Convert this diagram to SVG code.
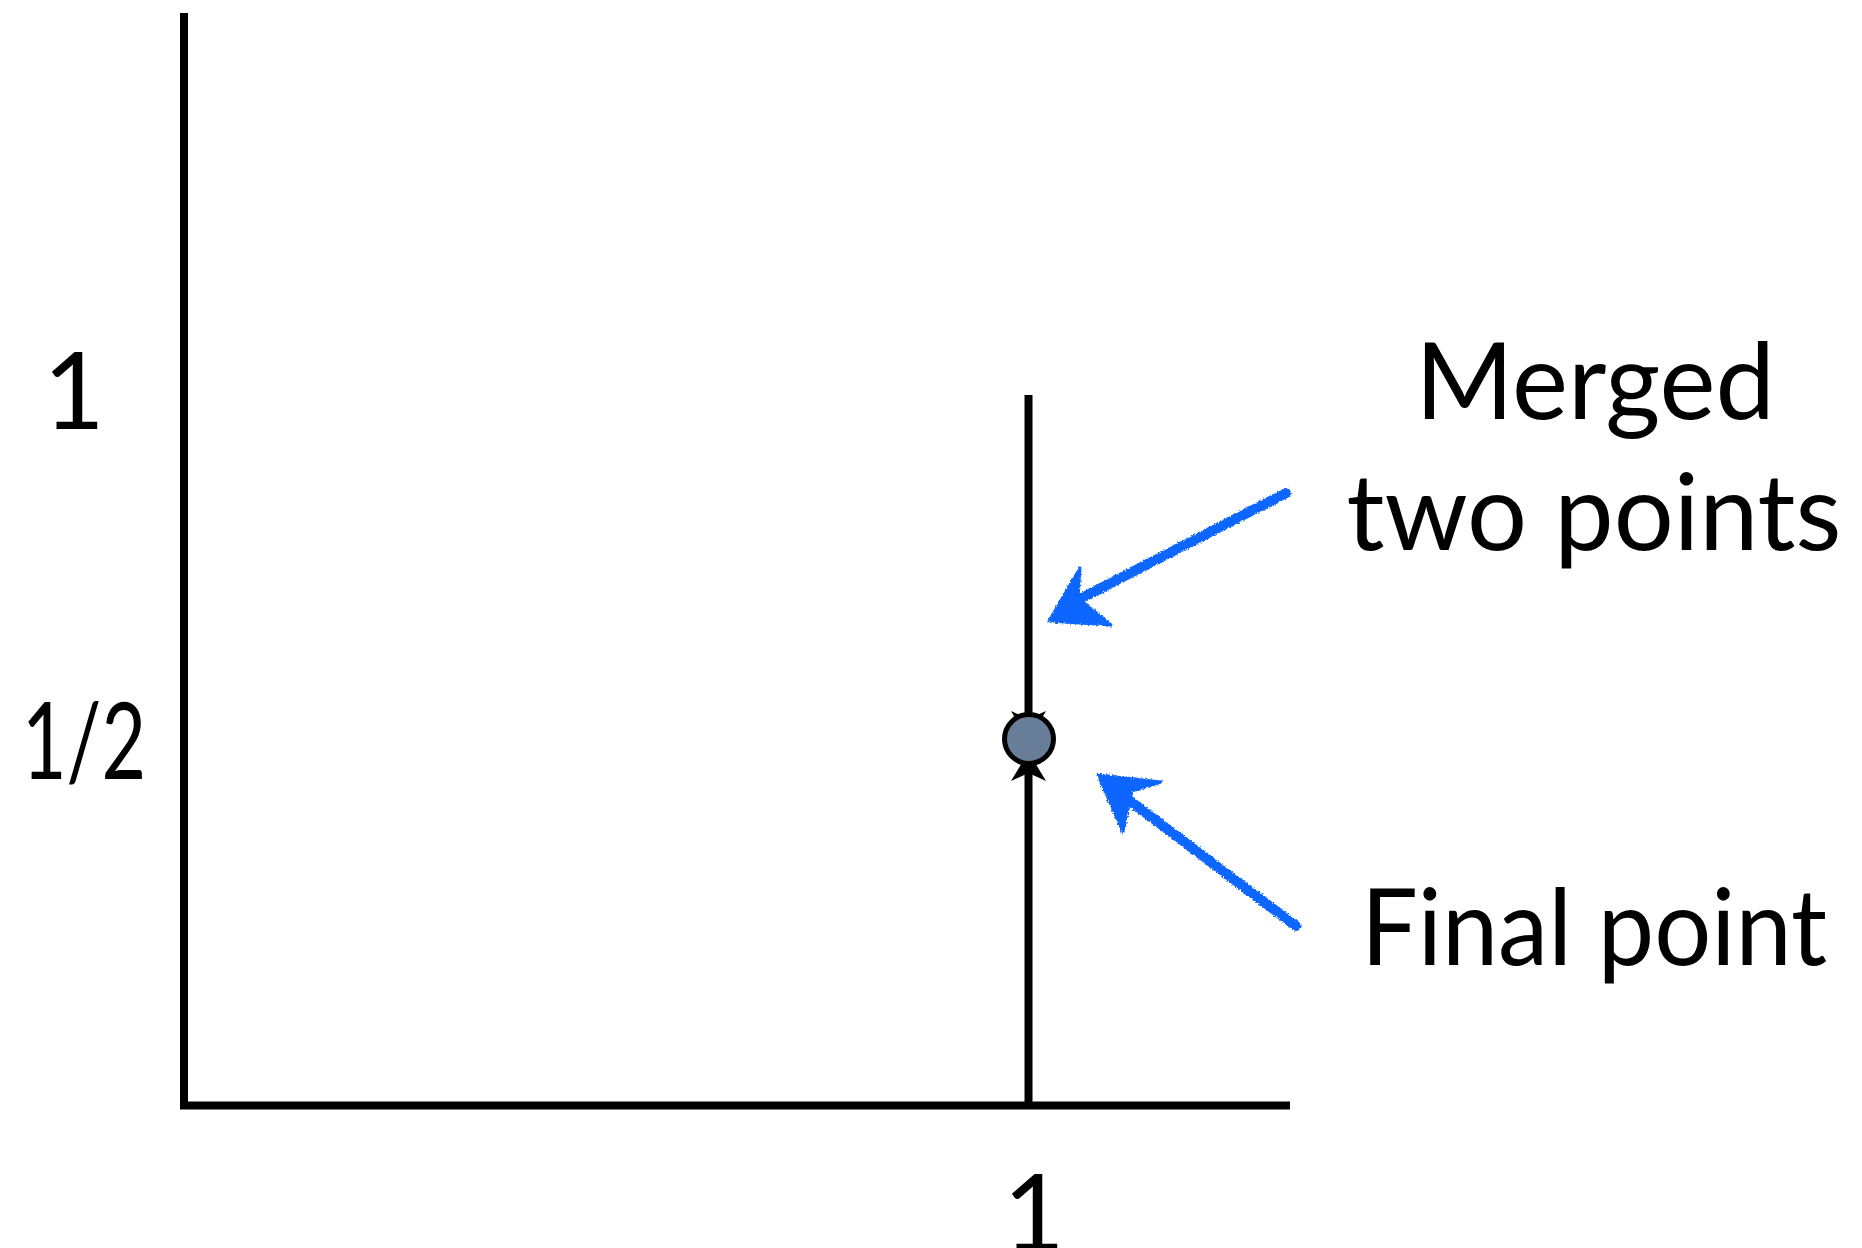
<svg xmlns="http://www.w3.org/2000/svg" width="1862" height="1248" viewBox="0 0 1862 1248">
<style>
.axis{stroke:#000;stroke-width:8;fill:none}
.lbl{font-family:Lato,"Open Sans","Liberation Sans",sans-serif;font-size:106px;fill:#000}
.blue{fill:#0a66ff;stroke:#0a66ff;stroke-linejoin:round}
</style>
<defs>
<filter id="rough" x="-10%" y="-10%" width="120%" height="120%">
<feTurbulence type="fractalNoise" baseFrequency="0.6" numOctaves="2" seed="3" result="n"/>
<feDisplacementMap in="SourceGraphic" in2="n" scale="4" xChannelSelector="R" yChannelSelector="G"/>
</filter>
</defs>
<rect width="1862" height="1248" fill="#fff"/>
<g id="axes">
<line class="axis" x1="184" y1="13" x2="184" y2="1105.5"/>
<line class="axis" x1="180" y1="1105.5" x2="1290" y2="1105.5"/>
</g>
<g id="connectors">
<line class="axis" x1="1028.5" y1="395" x2="1028.5" y2="730"/>
<path d="M1028.5 741 L1011 711 L1028.5 719 L1046 711 Z" fill="#000"/>
<line class="axis" x1="1028.5" y1="1105.5" x2="1028.5" y2="770"/>
<path d="M1028.5 752 L1046 781 L1028.5 773 L1011 781 Z" fill="#000"/>
</g>
<g id="point">
<circle cx="1029" cy="739" r="24.5" fill="#687d97" stroke="#000" stroke-width="5"/>
</g>
<g id="arrow-merged" filter="url(#rough)">
<line class="blue" x1="1286" y1="493" x2="1070" y2="604" stroke-width="10" stroke-linecap="round"/>
<path class="blue" d="M1049 621 L1080 568 L1078 598 L1111 625 Z" stroke-width="3"/>
</g>
<g id="arrow-final" filter="url(#rough)">
<line class="blue" x1="1296" y1="926" x2="1118" y2="792" stroke-width="10" stroke-linecap="round"/>
<path class="blue" d="M1098 775 L1161 782 L1132 791 L1123 832 Z" stroke-width="3"/>
</g>
<g id="labels">
<text class="lbl" x="74" y="429" text-anchor="middle">1</text>
<text class="lbl" x="84" y="779" text-anchor="middle" textLength="124" lengthAdjust="spacingAndGlyphs">1/2</text>
<text class="lbl" x="1034" y="1251" text-anchor="middle">1</text>
<text class="lbl" x="1595" y="419" text-anchor="middle">Merged</text>
<text class="lbl" x="1594" y="550" text-anchor="middle">two points</text>
<text class="lbl" x="1594" y="965" text-anchor="middle" textLength="466" lengthAdjust="spacingAndGlyphs">Final point</text>
</g>
</svg>
